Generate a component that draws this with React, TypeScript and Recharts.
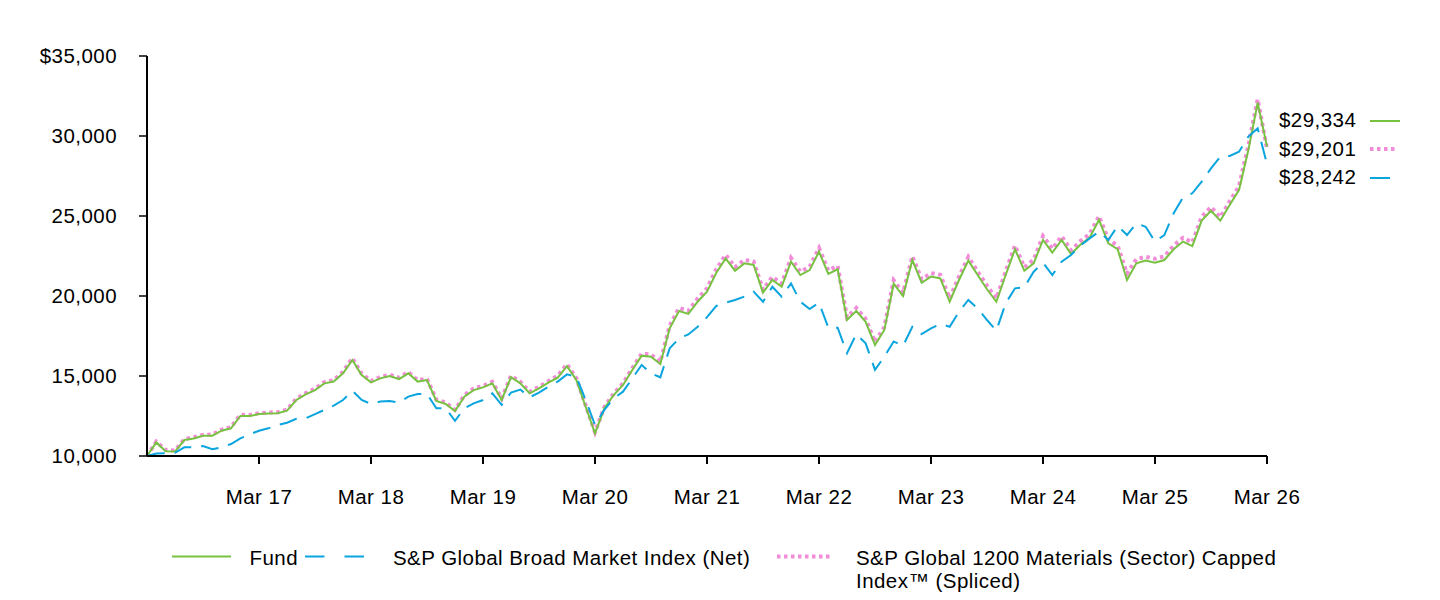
import React from 'react';
import { LineChart, Line, XAxis, YAxis } from 'recharts';

// growth of a $10,000 investment, month-end values Mar 2016 – Mar 2026
const fund = [
  10000, 10850, 10300, 10280, 11000, 11100, 11270, 11270, 11580, 11730, 12500, 12500,
  12620, 12650, 12670, 12830, 13500, 13850, 14120, 14540, 14650, 15170, 16000, 15060,
  14600, 14850, 15000, 14810, 15170, 14650, 14750, 13440, 13250, 12810, 13710, 14120,
  14290, 14540, 13500, 14920, 14540, 13920, 14230, 14580, 14900, 15620, 14750, 13080,
  11420, 12980, 13810, 14440, 15380, 16270, 16210, 15750, 17980, 19060, 18880, 19640,
  20270, 21450, 22350, 21580, 22040, 21940, 20210, 21000, 20580, 22150, 21310, 21620,
  22770, 21380, 21670, 18500, 19060, 18390, 16940, 17880, 20770, 20000, 22250, 20830,
  21210, 21100, 19640, 21000, 22210, 21310, 20420, 19640, 21310, 22920, 21580, 22040,
  23500, 22710, 23500, 22620, 23200, 23650, 24750, 23290, 22920, 21000, 22040, 22210,
  22080, 22250, 22920, 23400, 23120, 24710, 25330, 24710, 25690, 26620, 29120, 32080,
  29334,
];

const broadMarket = [
  10000, 10150, 10170, 10200, 10540, 10540, 10620, 10420, 10540, 10750, 11100, 11350,
  11580, 11730, 11940, 12080, 12330, 12350, 12620, 12880, 13150, 13500, 14080, 13500,
  13250, 13400, 13440, 13330, 13710, 13880, 13880, 12980, 12980, 12200, 12980, 13290,
  13500, 13920, 13190, 13960, 14150, 13670, 13960, 14330, 14650, 15100, 14960, 13500,
  11940, 12880, 13600, 14020, 14850, 15690, 15170, 14920, 16730, 17350, 17600, 18080,
  18680, 19380, 19580, 19750, 19960, 20270, 19640, 20580, 19960, 20790, 19640, 19190,
  19580, 18020, 18020, 16420, 17620, 17040, 15380, 16210, 17160, 16880, 18080, 17620,
  17980, 18250, 18080, 19020, 19750, 19230, 18500, 17830, 19540, 20480, 20540, 21520,
  22080, 21310, 22150, 22560, 23150, 23600, 24020, 23500, 24380, 23810, 24540, 24330,
  23400, 23810, 25170, 26170, 26420, 27150, 27980, 28710, 28750, 29020, 29960, 30480,
  28242,
];

const materials = [
  10000, 10900, 10380, 10350, 11050, 11180, 11320, 11350, 11650, 11800, 12580, 12560,
  12680, 12720, 12740, 12900, 13580, 13930, 14210, 14620, 14740, 15260, 16120, 15150,
  14690, 14940, 15080, 14900, 15250, 14740, 14830, 13530, 13340, 12880, 13800, 14220,
  14380, 14640, 13600, 15020, 14640, 14010, 14330, 14680, 15010, 15740, 14860, 13170,
  11500, 13060, 13900, 14540, 15500, 16400, 16340, 15880, 18150, 19250, 19070, 19840,
  20480, 21680, 22580, 21800, 22260, 22150, 20400, 21200, 20780, 22380, 21520, 21830,
  23000, 21600, 21880, 18680, 19250, 18580, 17120, 18060, 20980, 20200, 22480, 21050,
  21430, 21320, 19850, 21220, 22440, 21530, 20640, 19850, 21530, 23160, 21800, 22270,
  23750, 22950, 23740, 22860, 23430, 23880, 24990, 23520, 23150, 21400, 22300, 22450,
  22330, 22480, 23150, 23640, 23350, 24950, 25560, 24930, 25920, 26870, 29400, 32300,
  29201,
];

const MONTHS = ['Mar', 'Apr', 'May', 'Jun', 'Jul', 'Aug', 'Sep', 'Oct', 'Nov', 'Dec', 'Jan', 'Feb'];
const yearTicks = [12, 24, 36, 48, 60, 72, 84, 96, 108, 120];
const yTicks = [10000, 15000, 20000, 25000, 30000, 35000];

const GREEN = '#78C241';
const BLUE = '#0AA5DE';
const PINK = '#F28CD8';
const FONT = '"Liberation Sans", Arial, Helvetica, sans-serif';
const FS = 20.5;

const data = fund.map((v, t) => ({
  t,
  month: `${MONTHS[t % 12]} ${16 + Math.floor((t + 2) / 12)}`,
  fund: v,
  broad: broadMarket[t],
  materials: materials[t],
}));

const money = (v: number) => v.toLocaleString('en-US');
const last = (arr: number[]) => arr[arr.length - 1];

const endLabels = [
  { value: last(fund), y: 127, kind: 'solid' },
  { value: last(materials), y: 156, kind: 'dot' },
  { value: last(broadMarket), y: 184, kind: 'dash' },
];

function Overlay() {
  return (
    <svg
      width={1440}
      height={600}
      style={{ position: 'absolute', left: 0, top: 0, pointerEvents: 'none' }}
      fontFamily={FONT}
      fontSize={FS}
    >
      {endLabels.map((l) => (
        <g key={l.kind}>
          <text x={1279} y={l.y} fill="#000">${money(l.value)}</text>
          {l.kind === 'solid' && <line x1={1370} x2={1400} y1={l.y - 6} y2={l.y - 6} stroke={GREEN} strokeWidth={2} />}
          {l.kind === 'dot' && (
            <line x1={1370} x2={1398} y1={l.y - 7} y2={l.y - 7} stroke={PINK} strokeWidth={4} strokeDasharray="3.5 3.5" />
          )}
          {l.kind === 'dash' && <line x1={1370} x2={1390} y1={l.y - 6} y2={l.y - 6} stroke={BLUE} strokeWidth={2} />}
        </g>
      ))}

      {/* legend */}
      <line x1={172} x2={231} y1={556.5} y2={556.5} stroke={GREEN} strokeWidth={2} />
      <text x={249.5} y={565} fill="#000">Fund</text>
      <line x1={305} x2={364} y1={556.5} y2={556.5} stroke={BLUE} strokeWidth={2} strokeDasharray="19.5 20" />
      <text x={393} y={565} fill="#000">S&amp;P Global Broad Market Index (Net)</text>
      <line x1={777} x2={832} y1={556.5} y2={556.5} stroke={PINK} strokeWidth={4} strokeDasharray="3.5 3.5" />
      <text x={856} y={565} fill="#000">S&amp;P Global 1200 Materials (Sector) Capped</text>
      <text x={856} y={588} fill="#000">Index™ (Spliced)</text>
    </svg>
  );
}

export default function App() {
  return (
    <div
      style={{
        position: 'absolute',
        left: 0,
        top: 0,
        width: 1440,
        height: 600,
        background: '#fff',
        fontFamily: FONT,
        letterSpacing: '0.45px',
      }}
    >
      <LineChart width={1440} height={600} data={data} margin={{ top: 56, right: 173, bottom: 0, left: 0 }}>
        <XAxis
          dataKey="t"
          type="number"
          domain={[0, 120]}
          ticks={yearTicks}
          tickFormatter={(t: number) => data[t].month}
          height={144}
          axisLine={{ stroke: '#000', strokeWidth: 2 }}
          tickLine={{ stroke: '#000', strokeWidth: 2 }}
          tickSize={8}
          tickMargin={25}
          tick={{ fill: '#000', fontSize: FS, fontFamily: FONT }}
        />
        <YAxis
          type="number"
          domain={[10000, 35000]}
          ticks={yTicks}
          tickFormatter={(v: number) => (v === 35000 ? `$${money(v)}` : money(v))}
          width={147}
          axisLine={{ stroke: '#000', strokeWidth: 2 }}
          tickLine={{ stroke: '#000', strokeWidth: 1.5 }}
          tickSize={8}
          tickMargin={22}
          tick={{ fill: '#000', fontSize: FS, fontFamily: FONT }}
        />
        <Line
          dataKey="materials"
          type="linear"
          stroke={PINK}
          strokeWidth={4}
          strokeDasharray="3.5 3.5"
          dot={false}
          activeDot={false}
          isAnimationActive={false}
        />
        <Line
          dataKey="fund"
          type="linear"
          stroke={GREEN}
          strokeWidth={2}
          dot={false}
          activeDot={false}
          isAnimationActive={false}
        />
        <Line
          dataKey="broad"
          type="linear"
          stroke={BLUE}
          strokeWidth={2}
          strokeDasharray="18 10"
          dot={false}
          activeDot={false}
          isAnimationActive={false}
        />
      </LineChart>
      <Overlay />
    </div>
  );
}
